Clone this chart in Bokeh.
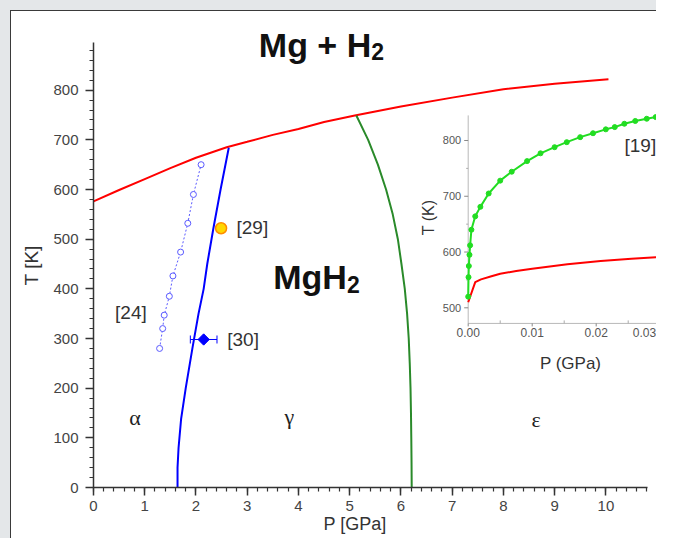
import numpy as np
from bokeh.plotting import figure
from bokeh.layouts import column
from bokeh.models import (Range1d, SingleIntervalTicker, Whisker,
                          ColumnDataSource, TeeHead)
from bokeh.core.properties import value
from bokeh.embed import file_html
from bokeh.resources import INLINE

# ---------------- data ----------------
# main panel: P [GPa], T [K]
red_P = [0.0, 0.5, 1.0, 1.5, 2.0, 2.6, 3.0, 3.5, 4.0, 4.5, 5.1, 6.0, 7.0, 8.0, 9.0, 10.05]
red_T = [576, 599, 621, 643, 664, 685, 696, 710, 722, 736, 749, 767, 785, 802, 813, 822]

blue_P = [1.64, 1.64, 1.66, 1.71, 1.80, 1.93, 2.05, 2.15, 2.22, 2.34, 2.48, 2.64]
blue_T = [0, 40, 80, 138, 200, 280, 350, 400, 450, 522, 600, 684]

green_P = [5.13, 5.36, 5.55, 5.71, 5.84, 5.94, 6.01, 6.075, 6.12, 6.152, 6.172, 6.187, 6.196, 6.202, 6.207, 6.21]
green_T = [749, 700, 650, 600, 550, 500, 450, 400, 350, 300, 250, 200, 150, 100, 50, 0]

ref24_P = [1.29, 1.35, 1.38, 1.48, 1.55, 1.70, 1.84, 1.95, 2.10]
ref24_T = [280, 320, 347, 385, 426, 474, 532, 590, 650]

ref29_P = [2.49]
ref29_T = [522]

ref30_P = [2.15]
ref30_T = [298]
ref30_err = [0.26]

# inset: P (GPa), T (K)
inset_green_P = [0.0, 0.00005, 0.0001, 0.0002, 0.0003, 0.0005, 0.0011, 0.0019, 0.0032,
                 0.0050, 0.0068, 0.0092, 0.0113, 0.0135, 0.0154, 0.0175, 0.0195,
                 0.0215, 0.0229, 0.0244, 0.0261, 0.0279, 0.0293]
inset_green_T = [520, 555, 575, 595, 612, 640, 664, 681, 705,
                 728, 744, 763, 777, 788, 797, 806, 813,
                 820, 824, 830, 835, 839, 842]
inset_red_P = [0.0, 0.0011, 0.0020, 0.0035, 0.0050, 0.0075, 0.0100, 0.0155, 0.0207, 0.0255, 0.0300]
inset_red_T = [510, 546, 551, 556, 561, 566, 570, 578, 584, 588, 591]

main_x_ticks_interval = 1
main_y_ticks_interval = 100
inset_x_ticks = [0.00, 0.01, 0.02, 0.03]
inset_x_tick_labels = ["0.00", "0.01", "0.02", "0.03"]
inset_x_minor = [0.005, 0.015, 0.025]
inset_y_ticks = [500, 600, 700, 800]
inset_y_tick_labels = ["500", "600", "700", "800"]
inset_y_minor = [550, 650, 750]

# ---------------- layout constants (page fits 657 x 539) ----------------
PAD = 11                 # grey surround + dark panel edge
W, H = 657 - PAD - 1, 539 - PAD - 1
FRAME_BOTTOM_PAGE = 487
LEFT, TOP = 93 - PAD, 0
BOTTOM = H - (FRAME_BOTTOM_PAGE - PAD)
FW = W - LEFT            # frame width (px)
FH = H - TOP - BOTTOM    # frame height (px)
SX = 51.24               # px per GPa (main)
SY = (FRAME_BOTTOM_PAGE - 42) / 896.0   # px per K (main)
X_END = FW / SX
Y_END = FH / SY
X_AXIS_END = 10.81
Y_AXIS_END = 896
# inset mapping (extra ranges spanning the whole frame)
ISX = 6400.0             # px per GPa (inset)
ISY = 0.5577             # px per K (inset)
IX0 = -(467.7 - 93) / ISX
IX1 = IX0 + FW / ISX
IY0 = 500 - (FRAME_BOTTOM_PAGE - 307.3) / ISY
IY1 = IY0 + FH / ISY
INSET_T_MIN, INSET_T_MAX = 472, 845
INSET_P_MAX = 0.0318
PX_X = 1.0 / ISX
PX_Y = 1.0 / ISY

FONT = value("Liberation Sans")
SERIF = value("Liberation Serif")
NB = "\u00a0"

p = figure(width=W, height=H, output_backend="svg", toolbar_location=None,
           x_range=Range1d(0, X_END), y_range=Range1d(0, Y_END),
           min_border_left=LEFT, min_border_right=0, min_border_top=TOP,
           min_border_bottom=BOTTOM)
p.outline_line_color = None
p.background_fill_color = "white"
p.border_fill_color = "white"
p.xgrid.visible = False
p.ygrid.visible = False

for ax in (p.xaxis[0], p.yaxis[0]):
    ax.axis_line_color = "#333333"
    ax.axis_line_width = 1.5
    ax.major_tick_line_color = "#333333"
    ax.minor_tick_line_color = "#333333"
    ax.major_tick_line_width = 1.5
    ax.minor_tick_line_width = 1.2
    ax.major_tick_out = 8
    ax.major_tick_in = 0
    ax.minor_tick_out = 4
    ax.minor_tick_in = 0
    ax.major_label_text_font = "Liberation Sans"
    ax.major_label_text_font_size = "15px"
    ax.major_label_text_color = "#444444"
    ax.axis_label_text_font = "Liberation Sans"
    ax.axis_label_text_font_style = "normal"
    ax.axis_label_text_color = "#333333"

p.xaxis.major_label_standoff = 5
p.yaxis.major_label_standoff = 7
p.xaxis.axis_label_text_font_size = "18px"
p.yaxis.axis_label_text_font_size = "19px"

p.xaxis.ticker = SingleIntervalTicker(interval=main_x_ticks_interval, num_minor_ticks=5)
p.yaxis.ticker = SingleIntervalTicker(interval=main_y_ticks_interval, num_minor_ticks=5)
p.xaxis.bounds = (0, X_AXIS_END)
p.yaxis.bounds = (0, Y_AXIS_END)
# trailing no-break spaces shift the visible title off the frame centre
p.xaxis.axis_label = "P [GPa]" + NB * 8
p.yaxis.axis_label = "T [K]" + NB * 6
p.xaxis.axis_label_standoff = 0
p.yaxis.axis_label_standoff = 8

# ---------------- main curves ----------------
p.line(red_P, red_T, line_color="#ff0000", line_width=2)
p.line(blue_P, blue_T, line_color="#0000ff", line_width=2)
p.line(green_P, green_T, line_color="#2a8a2a", line_width=2)

p.line(ref24_P, ref24_T, line_color="#5a5aff", line_width=1, line_dash="2 2")
p.scatter(ref24_P, ref24_T, marker="circle", size=6, fill_color="white",
          line_color="#5a5aff", line_width=1)

p.scatter(ref29_P, ref29_T, marker="circle", size=11, fill_color="#ffd700",
          line_color="#ff8c00", line_width=1.5)

src30 = ColumnDataSource(dict(
    t=ref30_T,
    lo=[a - e for a, e in zip(ref30_P, ref30_err)],
    hi=[a + e for a, e in zip(ref30_P, ref30_err)]))
p.add_layout(Whisker(source=src30, base="t", lower="lo", upper="hi",
                     dimension="width", line_color="#0000ff", line_width=1,
                     upper_head=TeeHead(size=8, line_color="#0000ff", line_width=1),
                     lower_head=TeeHead(size=8, line_color="#0000ff", line_width=1)))
p.scatter(ref30_P, ref30_T, marker="square", angle=45, angle_units="deg", size=8,
          color="#0000ff")

# ---------------- main texts ----------------
def txt(x, y, s, size, font=FONT, style="normal", align="center",
        baseline="middle", color="#222222", **kw):
    p.text(x=[x], y=[y], text=[s], text_font=font, text_font_size=size,
           text_font_style=style, text_align=align, text_baseline=baseline,
           text_color=color, **kw)

txt(5.42, 891, "Mg + H", "34px", style="bold", align="right",
    baseline="alphabetic", color="#111111")
txt(5.42, 877, "2", "23px", style="bold", align="left",
    baseline="alphabetic", color="#111111")
txt(4.945, 424, "MgH", "34px", style="bold", align="right",
    baseline="alphabetic", color="#111111")
txt(4.945, 409, "2", "23px", style="bold", align="left",
    baseline="alphabetic", color="#111111")

txt(0.73, 353, "[24]", "19px", color="#333333")
txt(3.10, 523, "[29]", "19px", color="#333333")
txt(2.92, 299, "[30]", "19px", color="#333333")

txt(0.81, 141, "α", "22px", font=SERIF)
txt(3.82, 142, "γ", "22px", font=SERIF)
txt(8.64, 137, "ε", "22px", font=SERIF)

# ---------------- inset ----------------
p.extra_x_ranges = {"ix": Range1d(IX0, IX1)}
p.extra_y_ranges = {"iy": Range1d(IY0, IY1)}
R = dict(x_range_name="ix", y_range_name="iy")

AX_C = "#b8b8b8"
p.segment(x0=[0], y0=[INSET_T_MIN], x1=[0], y1=[INSET_T_MAX],
          line_color=AX_C, line_width=1, **R)
p.segment(x0=[0], y0=[INSET_T_MIN], x1=[INSET_P_MAX], y1=[INSET_T_MIN],
          line_color=AX_C, line_width=1, **R)
# y ticks
p.segment(x0=[-4 * PX_X] * len(inset_y_ticks), y0=inset_y_ticks,
          x1=[0] * len(inset_y_ticks), y1=inset_y_ticks,
          line_color="#888888", line_width=1, **R)
p.segment(x0=[-2 * PX_X] * len(inset_y_minor), y0=inset_y_minor,
          x1=[0] * len(inset_y_minor), y1=inset_y_minor,
          line_color="#aaaaaa", line_width=1, **R)
# x ticks
p.segment(x0=inset_x_ticks, y0=[INSET_T_MIN] * len(inset_x_ticks),
          x1=inset_x_ticks, y1=[INSET_T_MIN - 3 * PX_Y] * len(inset_x_ticks),
          line_color="#888888", line_width=1, **R)
p.segment(x0=inset_x_minor, y0=[INSET_T_MIN] * len(inset_x_minor),
          x1=inset_x_minor, y1=[INSET_T_MIN + 3 * PX_Y] * len(inset_x_minor),
          line_color="#aaaaaa", line_width=1, **R)

p.text(x=[0] * len(inset_y_ticks), y=inset_y_ticks, text=inset_y_tick_labels,
       x_offset=-7, text_align="right", text_baseline="middle",
       text_font=FONT, text_font_size="11px", text_color="#555555", **R)
# x tick labels; the last one is pulled in so it stays inside the page
p.text(x=inset_x_ticks[:-1], y=[INSET_T_MIN] * (len(inset_x_ticks) - 1),
       text=inset_x_tick_labels[:-1], y_offset=5, text_align="center",
       text_baseline="top", text_font=FONT, text_font_size="12px",
       text_color="#555555", **R)
p.text(x=inset_x_ticks[-1:], y=[INSET_T_MIN], text=inset_x_tick_labels[-1:],
       x_offset=-4, y_offset=5, text_align="right", text_baseline="top",
       text_font=FONT, text_font_size="12px", text_color="#555555", **R)

p.text(x=[0], y=[662], text=["T (K)"], x_offset=-40, angle=np.pi / 2,
       text_align="center", text_baseline="middle", text_font=FONT,
       text_font_size="16px", text_color="#333333", **R)
p.text(x=[0.016], y=[INSET_T_MIN], text=["P (GPa)"], y_offset=40,
       text_align="center", text_baseline="middle", text_font=FONT,
       text_font_size="17px", text_color="#333333", **R)
p.text(x=[0.0269], y=[791], text=["[19]"], text_align="center",
       text_baseline="middle", text_font=FONT, text_font_size="19px",
       text_color="#333333", **R)

p.line(inset_red_P, inset_red_T, line_color="#ff0000", line_width=2, **R)
p.line(inset_green_P, inset_green_T, line_color="#22dd22", line_width=2, **R)
p.scatter(inset_green_P, inset_green_T, marker="circle", size=5,
          color="#22dd22", **R)

# grey surround (left/top) and a dark edge on the white panel
inner = column(p, styles={"border-left": "1px solid #3a3a3a",
                          "border-top": "1px solid #3a3a3a",
                          "background-color": "white",
                          "overflow": "visible"})
root = column(inner, styles={"border-left": "10px solid #e4e7e9",
                             "border-top": "10px solid #e4e7e9",
                             "background-color": "white",
                             "overflow": "visible"})

open("out.html", "w").write(file_html(root, INLINE))
